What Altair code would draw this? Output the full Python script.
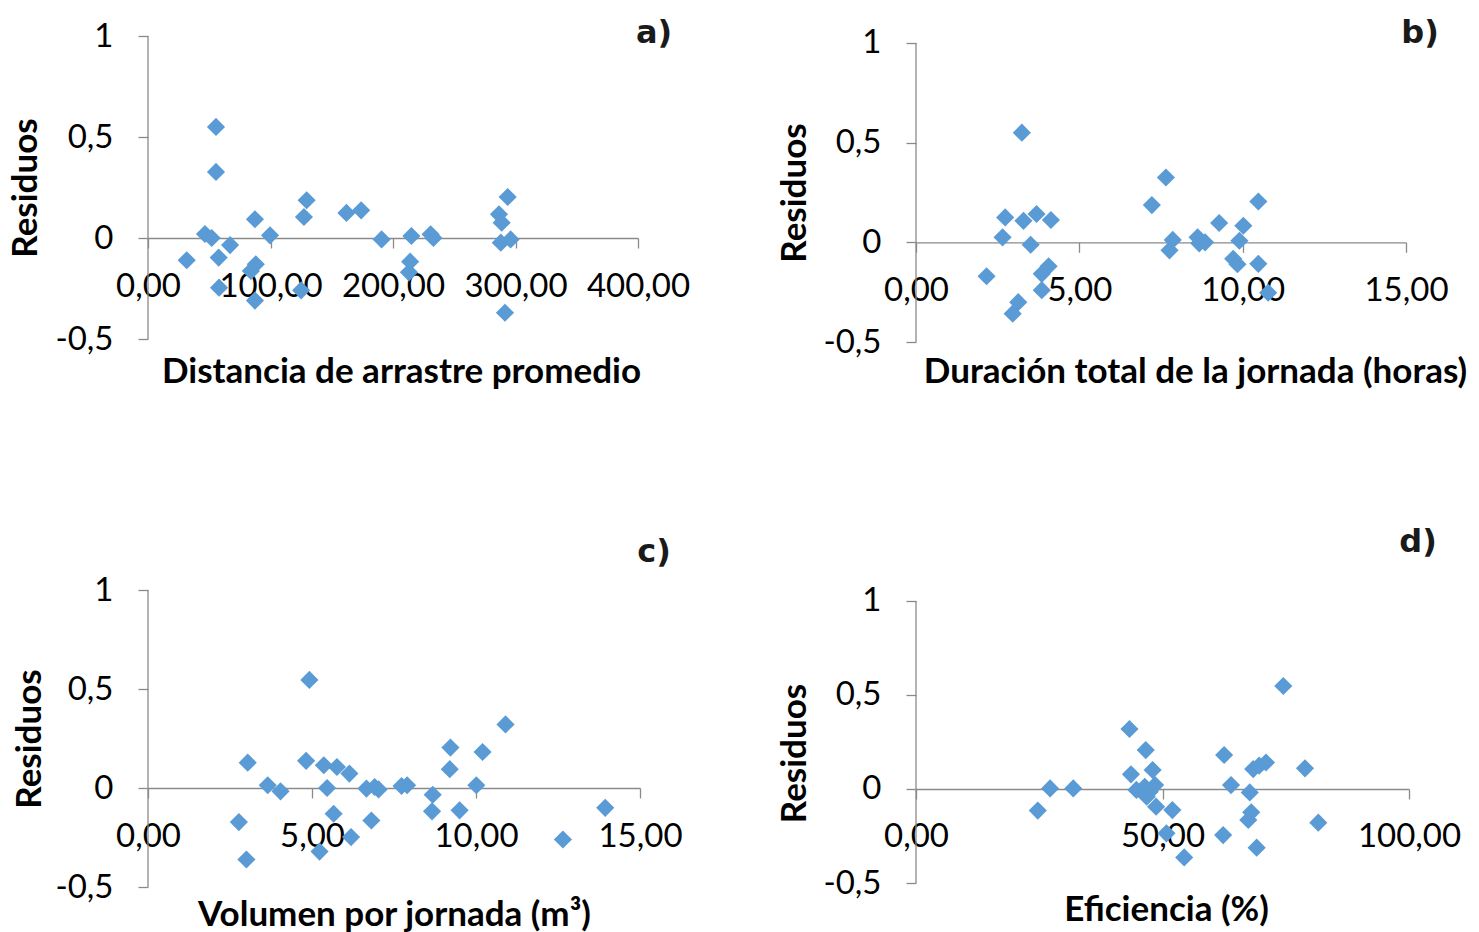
import altair as alt
import pandas as pd

# Panel a) Distancia de arrastre promedio
a_x = [55.5, 55.5, 46.5, 52, 31.6, 57.7, 67, 58, 87.3, 88, 84, 87.3, 99.6, 129.5, 127.3,
       125, 162, 174, 190.7, 215, 214, 213, 230.7, 233, 286.5, 288.7, 293.6, 288, 296, 291.4]
a_y = [0.55, 0.327, 0.02, 0.0, -0.11, -0.097, -0.035, -0.246, 0.093, -0.13, -0.163, -0.31,
       0.013, 0.187, 0.104, -0.259, 0.124, 0.137, -0.007, 0.01, -0.117, -0.17, 0.018, 0.0,
       0.117, 0.076, 0.203, -0.023, -0.007, -0.37]

# Panel b) Duración total de la jornada (horas)
b_x = [3.24, 2.73, 3.29, 3.69, 4.13, 2.65, 3.51, 2.16, 4.06, 3.85, 3.85, 3.13, 2.96, 7.65,
       7.22, 7.86, 7.76, 8.62, 8.67, 8.85, 9.28, 10.02, 9.9, 9.71, 9.84, 10.48, 10.48, 10.78]
b_y = [0.55, 0.125, 0.108, 0.142, 0.112, 0.025, -0.012, -0.17, -0.12, -0.158, -0.24, -0.30,
       -0.358, 0.325, 0.187, 0.012, -0.04, 0.025, -0.005, 0.0, 0.097, 0.083, 0.008, -0.083,
       -0.11, 0.205, -0.108, -0.253]

# Panel c) Volumen por jornada (m³)
c_x = [4.92, 3.04, 3.65, 4.04, 2.77, 3.0, 4.82, 5.36, 5.76, 6.14, 5.46, 5.66, 5.23, 6.19,
       6.66, 6.91, 7.03, 6.81, 7.73, 7.9, 8.68, 8.66, 9.22, 9.2, 9.5, 10.2, 10.01, 10.9,
       12.65, 13.94]
c_y = [0.546, 0.128, 0.014, -0.017, -0.172, -0.361, 0.137, 0.115, 0.106, 0.073, 0.0, -0.13,
       -0.321, -0.248, -0.003, 0.005, -0.007, -0.164, 0.01, 0.014, -0.034, -0.118, 0.204,
       0.095, -0.113, 0.182, 0.014, 0.321, -0.26, -0.1]

# Panel d) Eficiencia (%)
d_x = [74.5, 43.3, 46.6, 48.0, 43.6, 27.2, 31.9, 24.7, 44.7, 46.4, 47.4, 48.5, 46.8, 48.7,
       52.0, 50.8, 54.4, 62.5, 63.9, 67.7, 62.3, 68.0, 67.4, 69.1, 68.4, 69.6, 71.0, 78.9, 81.6]
d_y = [0.548, 0.319, 0.207, 0.101, 0.078, 0.003, 0.003, -0.115, -0.005, 0.012, -0.014, 0.021,
       -0.041, -0.094, -0.112, -0.236, -0.364, 0.181, 0.021, -0.018, -0.245, -0.124, -0.165,
       -0.312, 0.106, 0.124, 0.141, 0.11, -0.179]

y_ticks = [-0.5, 0, 0.5, 1]

AXIS_COLOR = "#8a8a8a"
POINT_COLOR = "#5b9bd5"
FONT = "Lato"


def panel(xs, ys, xmax, xstep, width, height, ytop, xtitle, tx, ty, ytx, yty,
          letter, lx, ly):
    df = pd.DataFrame({"x": xs, "y": ys})
    px_per_unit = height / (ytop + 0.5)
    xscale = alt.Scale(domain=[0, xmax], nice=False, zero=False)
    yscale = alt.Scale(domain=[-0.5, ytop], nice=False, zero=False)
    xaxis = alt.Axis(
        values=list(range(0, xmax + 1, xstep)),
        offset=-(0.5 * px_per_unit),
        grid=False, domainColor=AXIS_COLOR, domainWidth=1.3,
        tickColor=AXIS_COLOR, tickWidth=1.3, tickSize=10,
        labelFont=FONT, labelFontSize=33, labelColor="#000000", labelPadding=22,
        labelFlush=False, labelOverlap=False,
        labelExpr="replace(format(datum.value, '.2f'), '.', ',')",
        title=xtitle, titleFont=FONT, titleFontSize=35, titleFontWeight="bold",
        titleColor="#000000", titleX=tx, titleY=ty, titleBaseline="middle",
        titleAlign="center",
    )
    yaxis = alt.Axis(
        values=y_ticks, grid=False, domain=False,
        tickColor=AXIS_COLOR, tickWidth=1.3, tickSize=10,
        labelFont=FONT, labelFontSize=33, labelColor="#000000", labelPadding=25,
        labelExpr="replace(toString(datum.value), '.', ',')",
        title="Residuos", titleFont=FONT, titleFontSize=35, titleFontWeight="bold",
        titleColor="#000000", titleX=ytx, titleY=yty, titleAngle=270,
        titleBaseline="middle", titleAlign="center",
    )
    pts = alt.Chart(df).mark_point(
        shape="diamond", filled=True, size=330, color=POINT_COLOR, opacity=1
    ).encode(
        x=alt.X("x:Q", scale=xscale, axis=xaxis),
        y=alt.Y("y:Q", scale=yscale, axis=yaxis),
    )
    rule = alt.Chart(pd.DataFrame({"a": [0]})).mark_rule(
        color=AXIS_COLOR, strokeWidth=1.3
    ).encode(
        x=alt.datum(0, scale=xscale),
        y=alt.datum(-0.5, scale=yscale),
        y2=alt.datum(1),
    )
    lab = alt.Chart(pd.DataFrame({"t": [letter]})).mark_text(
        font="DejaVu Sans", fontWeight="bold", fontSize=32, align="center",
        baseline="middle", color="#1a1a1a"
    ).encode(x=alt.value(lx), y=alt.value(ly), text="t:N")
    return alt.layer(rule, pts, lab).properties(width=width, height=height)


pa = panel(a_x, a_y, 400, 100, 490, 303, 1.0, "Distancia de arrastre promedio",
           253, 133, -123, 151.5, "a)", 506, -3)
pb = panel(b_x, b_y, 15, 5, 490, 306, 1.035, "Duración total de la jornada (horas)",
           279, 129, -122, 156.5, "b)", 504, -3)
pc = panel(c_x, c_y, 15, 5, 492, 297, 1.0, "Volumen por jornada (m³)",
           246, 126, -119, 148.5, "c)", 506, -38)
pd_ = panel(d_x, d_y, 100, 50, 493, 293, 1.0585, "Eficiencia (%)",
            250, 121, -122, 163, "d)", 502, -48)

row1 = alt.hconcat(pa, pb, spacing=87)
row2 = alt.hconcat(pc, pd_, spacing=94)
chart = alt.vconcat(row1, row2, spacing=136).properties(
    padding={"left": 0, "top": 9, "right": 0, "bottom": 0}
).configure_view(stroke=None)

chart.save("out.html", embed_options={"renderer": "svg", "actions": False})
